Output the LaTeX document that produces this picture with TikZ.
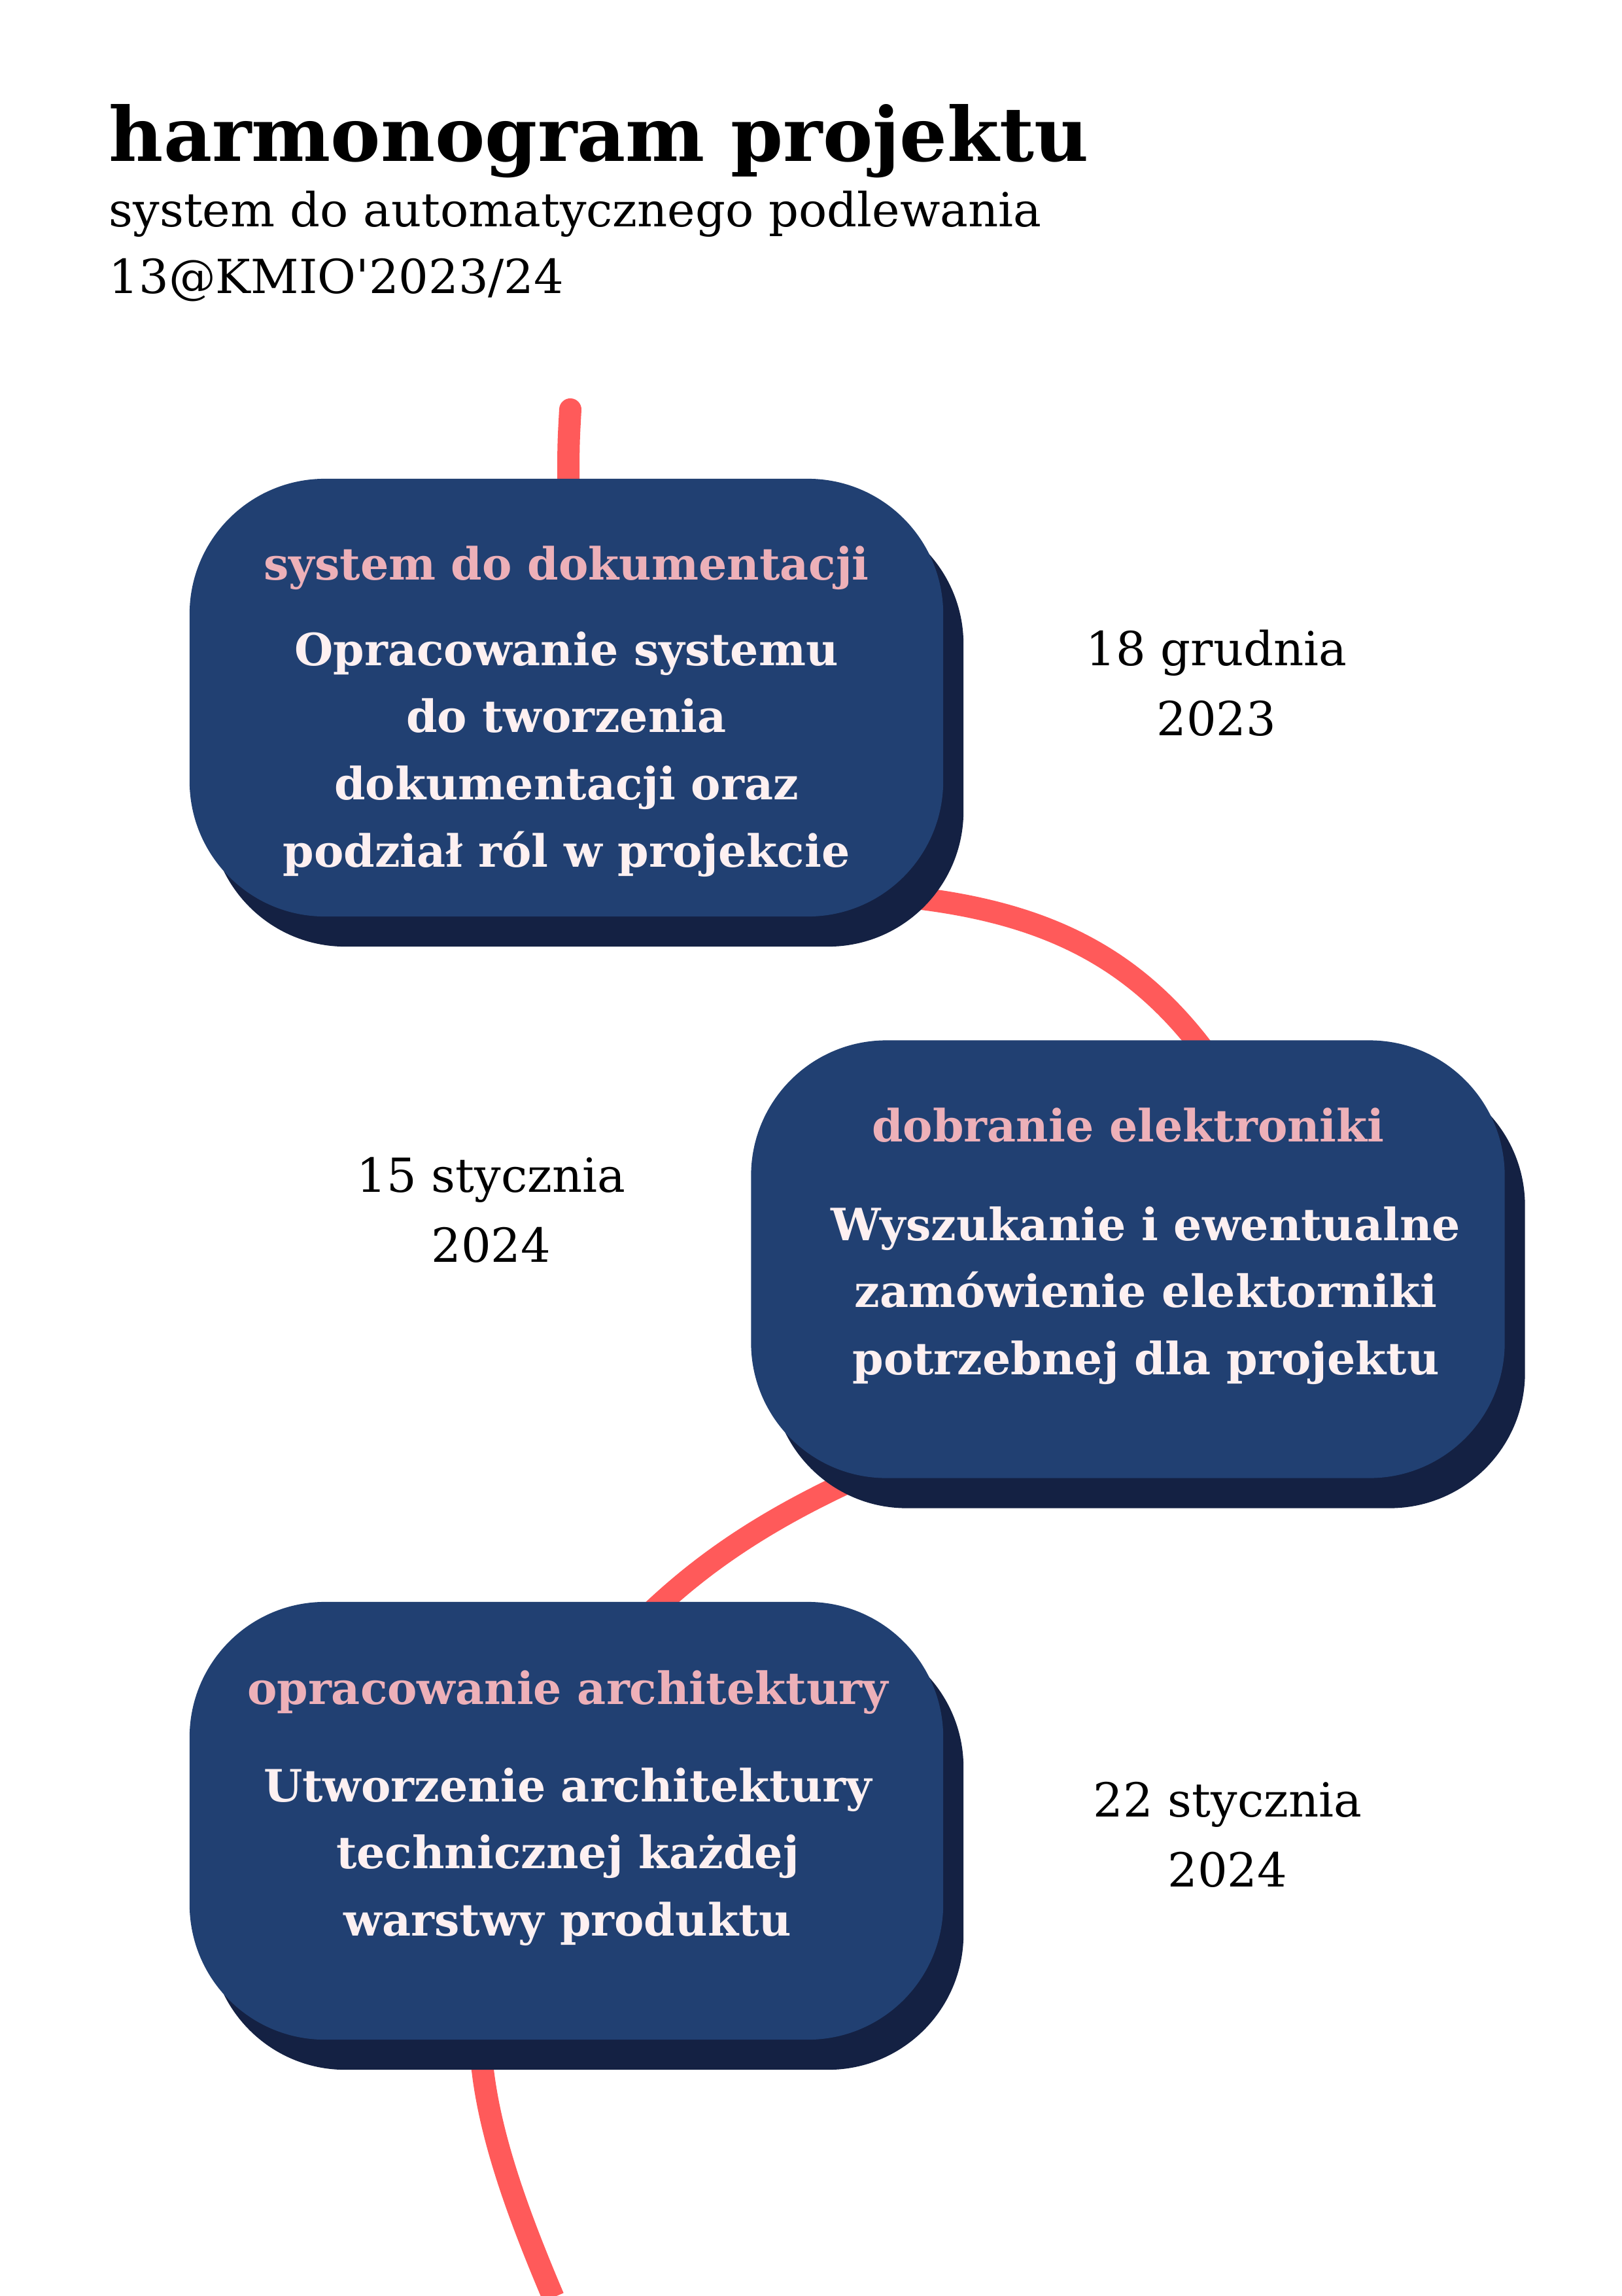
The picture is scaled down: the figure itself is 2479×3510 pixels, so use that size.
\documentclass[tikz,border=0pt]{standalone}
\usepackage{fontspec}
\setmainfont{DejaVu Serif}
\usetikzlibrary{shadows}

\definecolor{navy}{RGB}{33,64,114}
\definecolor{navyshade}{RGB}{20,33,67}
\definecolor{rose}{RGB}{237,176,184}
\definecolor{snow}{RGB}{253,240,241}
\definecolor{coral}{RGB}{255,90,90}

% stacked lines whose first baseline is the node's baseline
\newcommand\lineblock[2][c]{\begin{tabular}[t]{@{}#1@{}}#2\end{tabular}}

\pgfdeclarelayer{bg}
\pgfsetlayers{bg,main}

\begin{document}
% one unit = one pixel of a 2479 x 3510 page, y grows downwards
\begin{tikzpicture}[x=0.0084711577cm, y=-0.0084711577cm,
  card/.style={fill=navy, rounded corners=1.7535cm, inner sep=0pt,
    minimum width=9.7588cm, minimum height=5.6672cm,
    drop shadow={shadow xshift=0.2626cm, shadow yshift=-0.3897cm,
      fill=navyshade, opacity=1}},
  cardhead/.style={anchor=base, inner sep=0pt, text=rose,
    font=\bfseries\fontsize{16.4}{24.8}\selectfont},
  cardbody/.style={anchor=base, inner sep=0pt, text=snow,
    font=\bfseries\fontsize{16.4}{24.8}\selectfont},
  datetext/.style={anchor=base, inner sep=0pt,
    font=\fontsize{17.3}{25.8}\selectfont},
  link/.style={draw=coral, line width=8.2pt, line cap=round}]

\begin{pgfonlayer}{bg}
  \fill[white] (0,0) rectangle (2479,3510);
\end{pgfonlayer}
\useasboundingbox (0,0) rectangle (2479,3510);

% heading
\node[anchor=base west, inner sep=0pt,
  font=\bfseries\fontsize{27.6}{33}\selectfont] (title) at (166,246)
  {harmonogram projektu};
\node[anchor=base west, inner sep=0pt,
  font=\fontsize{17.3}{24.8}\selectfont] (subtitle) at (166,346)
  {\lineblock[l]{system do automatycznego podlewania\\13@KMIO\textquotesingle 2023/24}};

% milestone cards
\node[card] (b1) at (866,1066.5) {};
\node[card] (b2) at (1724.5,1925) {};
\node[card] (b3) at (866,2783.5) {};

\node[cardhead] (b1h) at (866,886) {system do dokumentacji};
\node[cardbody] (b1t) at (866,1017)
  {\lineblock{Opracowanie systemu\\do tworzenia\\dokumentacji oraz\\podział ról w projekcie}};

\node[cardhead] (b2h) at (1725,1745) {dobranie elektroniki};
\node[cardbody] (b2t) at (1752,1896)
  {\lineblock{Wyszukanie i ewentualne\\zamówienie elektorniki\\potrzebnej dla projektu}};

\node[cardhead] (b3h) at (868,2605) {opracowanie architektury};
\node[cardbody] (b3t) at (868,2754)
  {\lineblock{Utworzenie architektury\\technicznej każdej\\warstwy produktu}};

% dates
\node[datetext] (d1) at (1860,1017) {\lineblock{18 grudnia\\2023}};
\node[datetext] (d2) at (751,1822) {\lineblock{15 stycznia\\2024}};
\node[datetext] (d3) at (1877,2777) {\lineblock{22 stycznia\\2024}};

% timeline running behind the cards
\coordinate (start) at (872,626);
\coordinate (finish) at (846,3512);
\begin{pgfonlayer}{bg}
  \draw[link] (start) .. controls (869,680) .. ([shift={(3,30)}]b1.north);
  \draw[link] ([shift={(-42,-29)}]b1.south east)
    .. controls (1610,1398) and (1740,1470) .. ([shift={(120.5,22)}]b2.north);
  \draw[link] ([shift={(172,-5)}]b2.south west)
    .. controls (1120,2345) and (1030,2430) .. ([shift={(94,51)}]b3.north);
  \draw[link, line cap=butt] ([shift={(-131,12)}]b3.south)
    .. controls (742,3250) and (790,3380) .. (finish);
\end{pgfonlayer}
\end{tikzpicture}
\end{document}
